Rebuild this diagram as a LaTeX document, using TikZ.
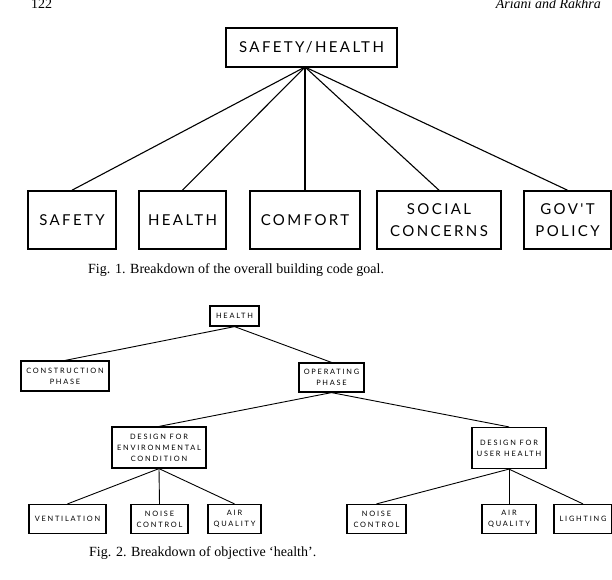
\documentclass[tikz,border=0pt]{standalone}
\usepackage{fontspec}
\setmainfont{Liberation Serif}
\newfontfamily\gsA[LetterSpace=16]{Lato}
\newfontfamily\gsB[LetterSpace=24]{Lato}
\begin{document}
\begin{tikzpicture}[x=1pt,y=-1pt,
  bigbox/.style={draw, line width=1.6pt, inner sep=0pt, align=center,
    font=\gsA\fontsize{15}{22}\selectfont},
  smallbox/.style={draw, line width=1.2pt, inner sep=0pt, align=center,
    font=\gsB\fontsize{7.4}{11}\selectfont},
  bigline/.style={line width=1.1pt},
  smallline/.style={line width=0.9pt},
  caption/.style={anchor=west, inner sep=0pt, font=\fontsize{14}{16}\selectfont}]
\useasboundingbox[fill=white] (0,0) rectangle (612,579);

% header
\node[anchor=base west, inner sep=0pt, font=\fontsize{14}{16}\selectfont] (pg) at (31,8) {122};
\node[anchor=base east, inner sep=0pt, font=\itshape\fontsize{14}{16}\selectfont] (au) at (601,8) {Ariani and Rakhra};

% Fig. 1
\node[bigbox, minimum width=171, minimum height=39] (sh) at (311.5,47.5) {SAFETY/HEALTH};
\coordinate (fan) at (305,67);
\node[bigbox, minimum width=88, minimum height=58] (safety) at (72,220) {SAFETY};
\node[bigbox, minimum width=87, minimum height=58] (health) at (182.5,220) {HEALTH};
\node[bigbox, minimum width=110, minimum height=58] (comfort) at (305,220) {COMFORT};
\node[bigbox, minimum width=124, minimum height=58] (social) at (439,220) {SOCIAL\\CONCERNS};
\node[bigbox, minimum width=87, minimum height=58] (govt) at (567.5,220) {GOV'T\\POLICY};
\foreach \n in {safety,health,comfort,social,govt}
  \draw[bigline] (fan) -- (\n.north);
\node[caption] (cap1) at (88,270) {Fig. 1. Breakdown of the overall building code goal.};

% Fig. 2
\node[smallbox, minimum width=49, minimum height=20] (h) at (234.5,316) {HEALTH};
\node[smallbox, minimum width=88, minimum height=30] (cp) at (65,376) {CONSTRUCTION\\PHASE};
\node[smallbox, minimum width=65, minimum height=29] (op) at (331.5,377.5) {OPERATING\\PHASE};
\node[smallbox, minimum width=94, minimum height=41] (env) at (159,447.5) {DESIGN FOR\\ENVIRONMENTAL\\CONDITION};
\node[smallbox, minimum width=74, minimum height=41] (user) at (509,448) {DESIGN FOR\\USER HEALTH};
\node[smallbox, minimum width=77, minimum height=29] (vent) at (67.5,519) {VENTILATION};
\node[smallbox, minimum width=57, minimum height=29] (noise1) at (159.5,519) {NOISE\\CONTROL};
\node[smallbox, minimum width=53, minimum height=29] (air1) at (234.5,519) {AIR\\QUALITY};
\node[smallbox, minimum width=59, minimum height=29] (noise2) at (376.5,519) {NOISE\\CONTROL};
\node[smallbox, minimum width=54, minimum height=29] (air2) at (509,519) {AIR\\QUALITY};
\node[smallbox, minimum width=58, minimum height=29] (light) at (583,519) {LIGHTING};
\draw[smallline] (h.south) -- (cp.north);
\draw[smallline] (h.south) -- (op.north);
\draw[smallline] (op.south) -- (env.north);
\draw[smallline] (op.south) -- (user.north);
\draw[smallline] (env.south) -- (vent.north);
\draw[smallline] (env.south) -- (noise1.north);
\draw[smallline] (env.south) -- (air1.north);
\draw[smallline] (user.south) -- (noise2.north);
\draw[smallline] (user.south) -- (air2.north);
\draw[smallline] (user.south) -- (light.north);
\node[caption] (cap2) at (89,553) {Fig. 2. Breakdown of objective ‘health’.};
\end{tikzpicture}
\end{document}
